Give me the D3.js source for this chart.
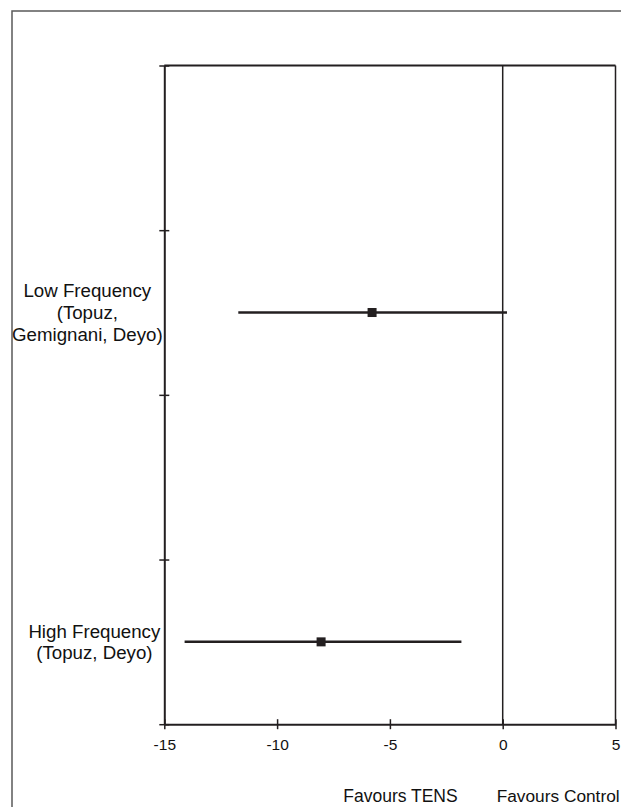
<!DOCTYPE html>
<html><head><meta charset="utf-8">
<script src="https://cdn.jsdelivr.net/npm/d3@7"></script>
<style>
html,body{margin:0;padding:0;background:#fff;}
svg{display:block;font-family:"Liberation Sans",Arial,sans-serif;}
</style></head>
<body>
<svg id="chart" width="621" height="807"></svg>
<script>
// ---- data ----
const categories = [
  ["Low Frequency", "(Topuz,", "Gemignani, Deyo)"],
  ["High Frequency", "(Topuz, Deyo)"]
];
const categoryPos = [1.5, 3.5];
const estimate = [-5.79, -8.05];
const lowerCI = [-11.72, -14.1];
const upperCI = [0.19, -1.83];
const xTicks = [-15, -10, -5, 0, 5];
const yTicks = [0, 1, 2, 3, 4];
const favourLabels = ["Favours TENS", "Favours Control"];

(function () {
const svg = d3.select("#chart");
const ink = "#231f20";

// outer frame
svg.append("rect").attr("x", 12).attr("y", 11).attr("width", 700).attr("height", 900)
  .attr("fill", "none").attr("stroke", "#5a5a5a").attr("stroke-width", 1.5);

const pLeft = 164.3, pRight = 615.5, pTop = 65.5, pBottom = 724.2;
const x = d3.scaleLinear().domain([-15, 5]).range([pLeft, pRight]);
const y = d3.scaleLinear().domain([0, 4]).range([pTop, pBottom]);

// plot box: top and right lines
svg.append("line").attr("x1", pLeft).attr("x2", pRight).attr("y1", pTop).attr("y2", pTop)
  .attr("stroke", ink).attr("stroke-width", 2);
svg.append("line").attr("x1", pRight).attr("x2", pRight).attr("y1", pTop).attr("y2", pBottom)
  .attr("stroke", ink).attr("stroke-width", 1.5);

// zero line
svg.append("line").attr("x1", x(0)).attr("x2", x(0)).attr("y1", pTop).attr("y2", pBottom)
  .attr("stroke", ink).attr("stroke-width", 1.5);

// y axis (no labels, cross ticks)
const yAxis = svg.append("g").attr("transform", `translate(${pLeft},0)`)
  .call(d3.axisLeft(y).tickValues(yTicks).tickFormat("").tickSizeOuter(0));
yAxis.select(".domain").attr("stroke", ink).attr("stroke-width", 2);
yAxis.selectAll(".tick line").attr("x1", -5).attr("x2", 5).attr("stroke", ink).attr("stroke-width", 1.5);

// x axis
const xAxis = svg.append("g").attr("transform", `translate(0,${pBottom})`)
  .call(d3.axisBottom(x).tickValues(xTicks).tickFormat(d => String(d)).tickSizeOuter(0));
xAxis.select(".domain").attr("stroke", ink).attr("stroke-width", 2);
xAxis.selectAll(".tick line").attr("y1", -5).attr("y2", 5).attr("stroke", ink).attr("stroke-width", 1.5);
xAxis.selectAll(".tick text").attr("y", 0).attr("dy", 0).attr("transform", "translate(0,26)")
  .attr("font-size", "15.5px").attr("fill", "#111")
  .attr("font-family", '"Liberation Sans",Arial,sans-serif');

// favours labels
svg.append("text").attr("x", x(0) - 45).attr("y", 801.5).attr("text-anchor", "end")
  .attr("font-size", "17.5px").attr("fill", "#111").text(favourLabels[0]);
svg.append("text").attr("x", x(0) - 6).attr("y", 801.5).attr("text-anchor", "start")
  .attr("font-size", "17.3px").attr("fill", "#111").text(favourLabels[1]);

// CI lines and points
categories.forEach((lines, i) => {
  const cy = y(categoryPos[i]);
  svg.append("line").attr("x1", x(lowerCI[i])).attr("x2", x(upperCI[i]))
    .attr("y1", cy).attr("y2", cy).attr("stroke", ink).attr("stroke-width", 2.5);
  const s = 9;
  svg.append("rect").attr("x", x(estimate[i]) - s / 2).attr("y", cy - s / 2)
    .attr("width", s).attr("height", s).attr("fill", ink);

  const g = svg.append("g");
  const texts = lines.map((t, j) => g.append("text")
    .attr("font-size", "18.7px").attr("fill", "#111")
    .attr("text-anchor", "middle")
    .attr("y", cy + (j - (lines.length - 1) / 2) * 21.7 + 6.5)
    .text(t));
  const w = d3.max(texts, t => t.node().getComputedTextLength());
  const cx = Math.max(pLeft - 4 - w / 2, 12 + w / 2);
  texts.forEach(t => t.attr("x", cx));
});
})();
</script>
</body></html>
